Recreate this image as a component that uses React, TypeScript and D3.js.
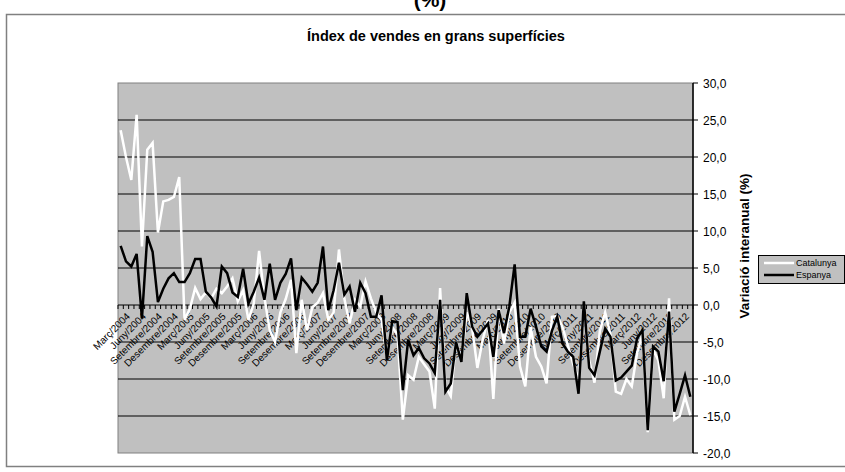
import React from 'react';
import * as d3 from 'd3';

const catalunya: number[] = [
  23.6, 20.0, 16.9, 25.7, 7.9, 21.0, 21.9, 9.8, 14.0, 14.2, 14.6, 17.3,
  -2.0, -0.5, 2.3, 0.8, 1.7, 0.9, 2.2, 1.6, 2.5, 3.6, 0.5, 2.0, -2.0, 0.2, 7.3,
  1.0, -3.4, -5.0, -1.0, 0.8, 3.4, -6.5, 0.7, -3.4, -0.3, 0.3, 1.6, -2.0, -1.0, 7.5, 0.9, -2.5, 0.7, -0.2, 3.2, 0.9, -1.0, -2.0, -7.0, -3.0, -4.0, -15.5,
  -9.5, -10.1, -7.0, -8.0, -9.0, -14.0, 2.3, -11.0, -12.3, -5.0, -7.2, -1.0, -3.0, -8.5, -4.7, -2.0, -12.7, -0.5, -5.2, -1.0, 0.3, -8.3, -11.0, -3.0, -7.0, -8.3, -10.6, -1.6,
  -1.5, -3.0, -5.5, -8.0, -10.0, -0.2, -7.5, -10.5, -3.5, -1.0, -4.0, -11.7, -12.0, -10.0, -11.0, -6.5, -4.0, -17.2, -6.0, -7.5, -12.6, 0.9, -15.5, -15.0, -12.4, -14.9,
];

const espanya: number[] = [
  8.0, 5.9, 5.2, 6.9, -1.8, 9.3, 7.2, 0.4, 2.2, 3.6, 4.3, 3.1, 3.1, 4.3, 6.2, 6.2, 1.8, 1.0, -0.2, 5.2, 4.3, 1.7, 1.1, 4.9, 0.2, 1.8, 3.7, 0.7,
  5.6, 0.7, 3.0, 4.2, 6.3, -0.7, 3.7, 2.8, 1.8, 3.0, 7.9, -0.7, 2.0, 5.7, 1.4, 2.5, -0.9, 3.0, 1.6, -1.6, -1.6, 1.3, -7.5, -2.2, -2.3, -11.5,
  -4.7, -6.8, -5.8, -7.2, -7.9, -9.2, 0.7, -11.7, -10.6, -5.0, -7.7, 1.6, -2.9, -4.3, -3.4, -2.5, -7.0, -0.7, -3.8, -0.2, 5.5, -4.3, -4.3, -0.5, -2.9, -5.6, -6.3, -3.5,
  -1.6, -5.2, -6.3, -7.0, -12.0, 0.5, -8.5, -9.5, -6.3, -3.2, -4.3, -10.2, -9.8, -9.0, -8.2, -4.5, -3.4, -16.9, -5.6, -6.3, -10.3, -0.9, -14.4, -12.0, -9.5, -12.4,
];

const tickLabels: string[] = [
  'Març/2004', 'Juny/2004', 'Setembre/2004', 'Desembre/2004',
  'Març/2005', 'Juny/2005', 'Setembre/2005', 'Desembre/2005',
  'Març/2006', 'Juny/2006', 'Setembre/2006', 'Desembre/2006',
  'Març/2007', 'Juny/2007', 'Setembre/2007', 'Desembre/2007',
  'Març/2008', 'Juny/2008', 'Setembre/2008', 'Desembre/2008',
  'Març/2009', 'Juny/2009', 'Setembre/2009', 'Desembre/2009',
  'Març/2010', 'Juny/2010', 'Setembre/2010', 'Desembre/2010',
  'Març/2011', 'Juny/2011', 'Setembre/2011', 'Desembre/2011',
  'Març/2012', 'Juny/2012', 'Setembre/2012', 'Desembre/2012',
];

const yTicks: number[] = [30, 25, 20, 15, 10, 5, 0, -5, -10, -15, -20];

const seriesNames = ['Catalunya', 'Espanya'];
const seriesColors = ['#ffffff', '#000000'];

const W = 845;
const H = 472;
const PL = 118, PR = 693, PT = 83, PB = 453;
const FONT = 'Arial, "Liberation Sans", sans-serif';

export default function App() {
  const n = catalunya.length;
  const idx = d3.range(n);
  const x = d3.scaleBand<number>().domain(idx).range([PL, PR]).paddingInner(0).paddingOuter(0);
  const bw = x.bandwidth();
  const cx = (i: number) => (x(i) as number) + bw / 2;
  const y = d3.scaleLinear().domain([-20, 30]).range([PB, PT]);
  const line = d3.line<number>().x((_, i) => cx(i)).y((d) => y(d));
  const y0 = y(0);

  return (
    <svg width={W} height={H} style={{ position: 'absolute', left: 0, top: 0, background: '#fff' }}
      fontFamily={FONT}>
      <rect x={0} y={0} width={W} height={H} fill="#fff" />
      <text x={430} y={7} textAnchor="middle" fontSize={21} fontWeight="bold">(%)</text>
      <rect x={6.5} y={14.5} width={W} height={452} fill="#fff" stroke="#808080" strokeWidth={1.5} />
      <text x={436} y={41} textAnchor="middle" fontSize={14.5} fontWeight="bold">Índex de vendes en grans superfícies</text>

      <rect x={PL} y={PT} width={PR - PL} height={PB - PT} fill="#c0c0c0" stroke="#808080" strokeWidth={1} />
      {yTicks.filter((t) => t !== 30 && t !== -20).map((t) => (
        <line key={'g' + t} x1={PL} x2={PR} y1={y(t)} y2={y(t)} stroke="#000" strokeWidth={1} />
      ))}
      {d3.range(n + 1).map((i) => (
        <line key={'ct' + i} x1={PL + i * bw} x2={PL + i * bw} y1={y0} y2={y0 + 4} stroke="#000" strokeWidth={1} />
      ))}
      {tickLabels.map((lab, k) => {
        const xi = cx(k * 3) + 10;
        const yi = y0 + 12;
        return (
          <text key={'xl' + k} x={xi} y={yi} fontSize={10} textAnchor="end"
            transform={`rotate(-45 ${xi} ${yi})`} fill="#000">{lab}</text>
        );
      })}

      <path d={line(catalunya) || ''} fill="none" stroke={seriesColors[0]} strokeWidth={2.5} strokeLinejoin="miter" />
      <path d={line(espanya) || ''} fill="none" stroke={seriesColors[1]} strokeWidth={2.5} strokeLinejoin="miter" />

      <line x1={PR} x2={PR} y1={PT} y2={PB} stroke="#000" strokeWidth={1.5} />
      {yTicks.map((t) => (
        <g key={'yt' + t}>
          <line x1={PR} x2={PR + 5} y1={y(t)} y2={y(t)} stroke="#000" strokeWidth={1} />
          <text x={703} y={y(t) + 4.5} fontSize={12} fill="#000">{d3.format('.1f')(t).replace('.', ',').replace('−', '-')}</text>
        </g>
      ))}
      <text transform={`translate(749 246) rotate(-90)`} textAnchor="middle" fontSize={13.5} fontWeight="bold">Variació interanual (%)</text>

      <rect x={758.5} y={255.5} width={86} height={28} fill="#c0c0c0" stroke="#000" strokeWidth={1} />
      {seriesNames.map((s, k) => (
        <g key={'lg' + s}>
          <line x1={764} x2={794} y1={263 + k * 12} y2={263 + k * 12} stroke={seriesColors[k]} strokeWidth={2.5} />
          <text x={796} y={266 + k * 12} fontSize={9} fill="#000">{s}</text>
        </g>
      ))}
    </svg>
  );
}
